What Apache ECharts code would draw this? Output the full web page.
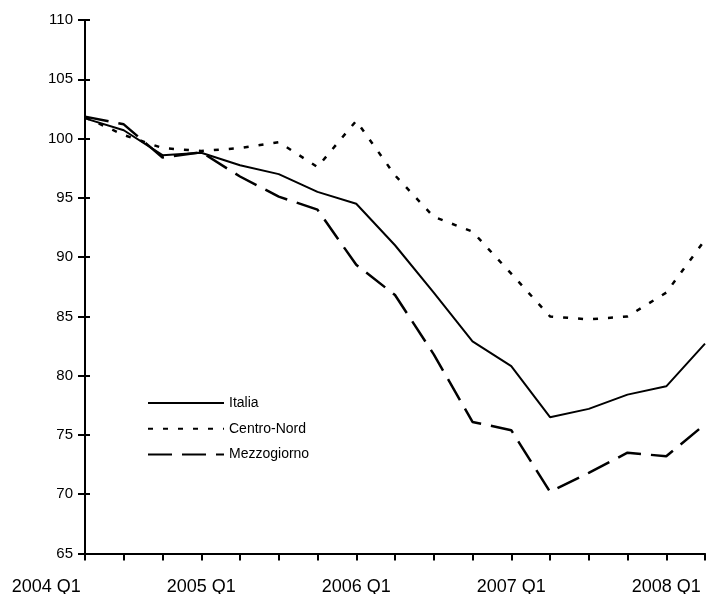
<!DOCTYPE html>
<html>
<head>
<meta charset="utf-8">
<script src="https://cdn.jsdelivr.net/npm/echarts@6/dist/echarts.min.js"></script>
<style>
  html, body { margin: 0; padding: 0; background: #fff; }
  #chart { width: 706px; height: 594px; }
</style>
</head>
<body>
<div id="chart"></div>
<script>
// trimestri (la serie parte dal 2004 Q2)
const quarters = [
    '2004 Q2', '2004 Q3', '2004 Q4',
    '2005 Q1', '2005 Q2', '2005 Q3', '2005 Q4',
    '2006 Q1', '2006 Q2', '2006 Q3', '2006 Q4',
    '2007 Q1', '2007 Q2', '2007 Q3', '2007 Q4',
    '2008 Q1', '2008 Q2'
];
const firstLabel = '2004 Q1';

const italia = [101.7, 100.7, 98.6, 98.8, 97.75, 97.0, 95.5, 94.5, 91.0, 87.0, 82.9, 80.8, 76.5, 77.2, 78.4, 79.1, 82.7];
const centroNord = [101.8, 100.3, 99.2, 98.95, 99.2, 99.7, 97.6, 101.5, 96.9, 93.4, 92.15, 88.6, 85.0, 84.75, 85.0, 87.0, 91.45];
const mezzogiorno = [101.85, 101.2, 98.4, 98.85, 96.8, 95.1, 94.0, 89.35, 86.8, 81.8, 76.1, 75.4, 70.2, 71.8, 73.5, 73.2, 75.9];

const yMin = 65, yMax = 110, yStep = 5;
const font = '"Liberation Sans", Arial, sans-serif';

const option = {
    animation: false,
    backgroundColor: '#fff',
    grid: { left: 85, right: 1, top: 20, bottom: 40.5, outerBoundsMode: 'none' },
    legend: {
        orient: 'vertical',
        left: 147,
        top: 396,
        padding: 0,
        itemWidth: 76,
        itemHeight: 14,
        itemGap: 11.7,
        itemStyle: { color: 'rgba(0,0,0,0)', borderWidth: 0 },
        textStyle: { fontFamily: font, fontSize: 14, color: '#000', lineHeight: 14 },
        data: ['Italia', 'Centro-Nord', 'Mezzogiorno']
    },
    xAxis: {
        type: 'category',
        boundaryGap: false,
        data: quarters,
        axisLine: { lineStyle: { color: '#000', width: 2 } },
        axisTick: { interval: 0, length: 7, lineStyle: { color: '#000', width: 2 } },
        axisLabel: {
            interval: (i, v) => v.endsWith('Q1'),
            margin: 25,
            fontFamily: font,
            fontSize: 18,
            color: '#000'
        },
        splitLine: { show: false }
    },
    yAxis: [
        {
            type: 'value',
            min: yMin, max: yMax, interval: yStep,
            axisLine: { show: true, lineStyle: { color: '#000', width: 2 } },
            axisTick: { show: true, length: 7, lineStyle: { color: '#000', width: 2 } },
            axisLabel: { margin: 12, fontFamily: font, fontSize: 15, color: '#000' },
            splitLine: { show: false }
        },
        {
            // tacche interne (stile Excel "incrociato")
            type: 'value',
            position: 'left',
            min: yMin, max: yMax, interval: yStep,
            axisLine: { show: false },
            axisTick: { show: true, inside: true, length: 5, lineStyle: { color: '#000', width: 2 } },
            axisLabel: { show: false },
            splitLine: { show: false }
        }
    ],
    graphic: [
        {
            type: 'text',
            x: 46.25,
            y: 587,
            style: {
                text: firstLabel,
                font: '18px ' + font,
                fill: '#000',
                align: 'center',
                verticalAlign: 'middle'
            }
        }
    ],
    series: [
        {
            name: 'Italia',
            type: 'line',
            symbol: 'none',
            data: italia,
            lineStyle: { color: '#000', width: 2 },
            itemStyle: { color: '#000' }
        },
        {
            name: 'Centro-Nord',
            type: 'line',
            symbol: 'none',
            data: centroNord,
            lineStyle: { color: '#000', width: 2.5, type: [5, 10] },
            itemStyle: { color: '#000' }
        },
        {
            name: 'Mezzogiorno',
            type: 'line',
            symbol: 'none',
            data: mezzogiorno,
            lineStyle: { color: '#000', width: 2.5, type: [24, 10] },
            itemStyle: { color: '#000' }
        }
    ]
};

const chart = echarts.init(document.getElementById('chart'));
chart.setOption(option);
</script>
</body>
</html>
